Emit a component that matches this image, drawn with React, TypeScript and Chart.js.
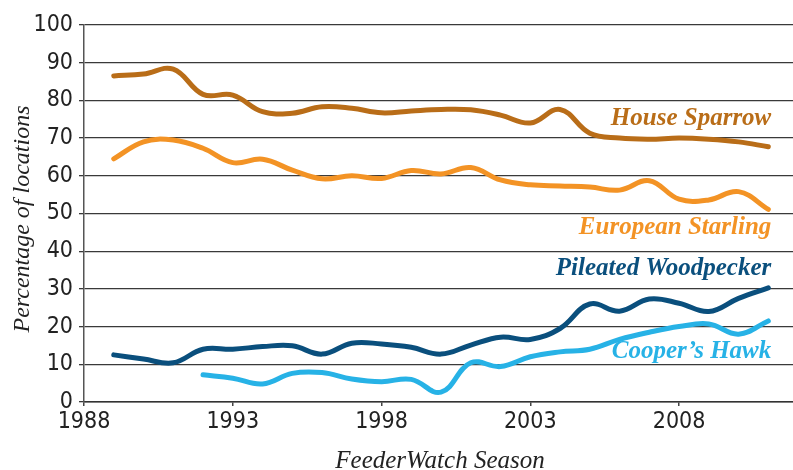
import React, { useEffect, useRef } from "react";
import { Chart, registerables } from "chart.js";

Chart.register(...registerables);

const years = [1989, 1990, 1991, 1992, 1993, 1994, 1995, 1996, 1997, 1998, 1999, 2000, 2001, 2002, 2003, 2004, 2005, 2006, 2007, 2008, 2009, 2010, 2011];
const houseSparrow = [86.5, 87, 88.3, 81.6, 81.4, 77, 76.6, 78.3, 77.9, 76.7, 77.2, 77.6, 77.5, 76.1, 74, 77.6, 71.3, 70, 69.7, 70, 69.7, 69, 67.7];
const europeanStarling = [64.5, 69, 69.5, 67.3, 63.5, 64.4, 61.5, 59.2, 60, 59.3, 61.4, 60.5, 62.2, 58.9, 57.6, 57.3, 57, 56.2, 58.7, 53.8, 53.6, 55.8, 51.1];
const pileatedWoodpecker = [12.5, 11.4, 10.4, 14, 14, 14.7, 14.9, 12.7, 15.6, 15.4, 14.5, 12.7, 15.1, 17.2, 16.6, 19.5, 26, 24.1, 27.3, 26.2, 24, 27.5, 30.3];
const coopersHawk = [null, null, null, 7.2, 6.3, 4.8, 7.6, 7.8, 6.1, 5.4, 6, 2.6, 10.4, 9.4, 12, 13.3, 14, 16.6, 18.5, 20, 20.7, 18, 21.5];
const seriesNames = ["House Sparrow", "European Starling", "Pileated Woodpecker", "Cooper\u2019s Hawk"];
const seriesColors = ["#b96d18", "#f39325", "#0a4f7d", "#27b2e6"];
const xTickValues = [1988, 1993, 1998, 2003, 2008];
const yTickValues = [0, 10, 20, 30, 40, 50, 60, 70, 80, 90, 100];

// label anchor values (data units) for the in-chart series names
const labelAnchorX = 2011.1;
const labelAnchorY = [75.3, 46.2, 35.5, 13.3];

const seriesValues = [houseSparrow, europeanStarling, pileatedWoodpecker, coopersHawk];

const TICK_FONT = "'Liberation Sans Narrow', 'DejaVu Sans Condensed', 'Roboto Condensed', 'Liberation Sans', sans-serif";
const SERIF = "'Liberation Serif', 'DejaVu Serif', serif";

const labelPlugin = {
  id: "seriesLabels",
  afterDatasetsDraw(chart: any) {
    const { ctx, scales } = chart;
    const xs = scales.x;
    const ys = scales.y;
    ctx.save();
    ctx.font = `italic bold 25px ${SERIF}`;
    ctx.textAlign = "right";
    ctx.textBaseline = "middle";
    seriesNames.forEach((name, i) => {
      ctx.fillStyle = seriesColors[i];
      ctx.fillText(name, xs.getPixelForValue(labelAnchorX), ys.getPixelForValue(labelAnchorY[i]));
    });
    // axis titles
    ctx.fillStyle = "#222";
    ctx.font = `italic 25px ${SERIF}`;
    ctx.textAlign = "center";
    ctx.fillText("FeederWatch Season", 440, 461);
    ctx.font = `italic 24px ${SERIF}`;
    ctx.translate(23, 219);
    ctx.rotate(-Math.PI / 2);
    ctx.fillText("Percentage of locations", 0, 0);
    ctx.restore();
  },
};

export default function App() {
  const ref = useRef<HTMLCanvasElement>(null);
  useEffect(() => {
    document.body.style.margin = "0";
    const canvas = ref.current!;
    const chart = new Chart(canvas, {
      type: "line",
      data: {
        datasets: seriesValues.map((vals, i) => ({
          label: seriesNames[i],
          data: years.map((x, j) => ({ x, y: vals[j] })),
          borderColor: seriesColors[i],
          backgroundColor: seriesColors[i],
          borderWidth: 5,
          pointRadius: 0,
          tension: 0.4,
          borderCapStyle: "round",
          borderJoinStyle: "round",
          fill: false,
        })) as any,
      },
      options: {
        animation: false,
        responsive: false,
        layout: { padding: { top: 25, right: 0, left: 0, bottom: 0 } },
        plugins: { legend: { display: false }, tooltip: { enabled: false } },
        scales: {
          x: {
            type: "linear",
            min: 1988,
            max: 2011.83,
            afterBuildTicks: (s: any) => {
              s.ticks = xTickValues.map((v) => ({ value: v }));
            },
            afterFit: (s: any) => {
              s.height = 68;
            },
            ticks: {
              font: { family: TICK_FONT, size: 23 },
              color: "#222",
              padding: 2,
              maxRotation: 0,
              autoSkip: false,
              callback: (v: any) => String(v),
            },
            grid: { drawOnChartArea: false, drawTicks: true, tickLength: 4, color: "#444", lineWidth: 1.5 },
            border: { color: "#333", width: 1.5 },
          },
          y: {
            min: 0,
            max: 100,
            afterBuildTicks: (s: any) => {
              s.ticks = yTickValues.map((v) => ({ value: v }));
            },
            afterFit: (s: any) => {
              s.width = 84;
            },
            ticks: {
              font: { family: TICK_FONT, size: 23 },
              color: "#222",
              padding: 6,
              callback: (v: any) => String(v),
            },
            grid: { color: "#3a3a3a", lineWidth: 1.3, tickLength: 5, drawTicks: true },
            border: { color: "#555", width: 1.5 },
          },
        },
      },
      plugins: [labelPlugin],
    });
    return () => chart.destroy();
  }, []);
  return (
    <div style={{ width: 793, height: 470, background: "#fff" }}>
      <canvas ref={ref} width={793} height={470} />
    </div>
  );
}
